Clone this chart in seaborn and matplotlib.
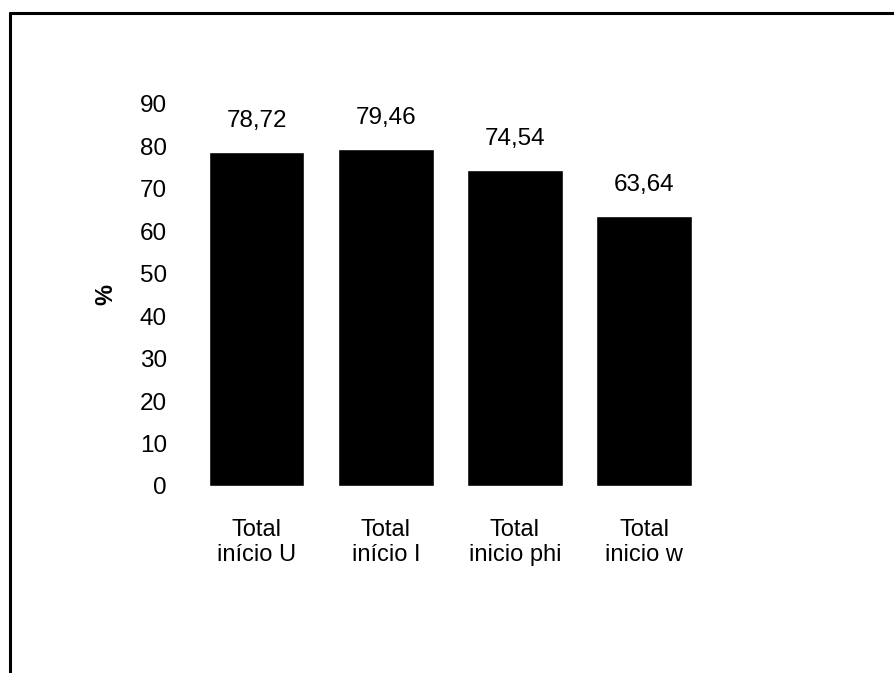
import matplotlib
matplotlib.use("Agg")
import matplotlib.pyplot as plt
from matplotlib.lines import Line2D
import seaborn as sns
import pandas as pd

# Percentages per starting condition
categories = ["Total\ninício U", "Total\ninício I", "Total\ninicio phi", "Total\ninicio w"]
values = [78.72, 79.46, 74.54, 63.64]
value_labels = ["78,72", "79,46", "74,54", "63,64"]
y_ticks = [0, 10, 20, 30, 40, 50, 60, 70, 80, 90]

sns.set_theme(style="white")
plt.rcParams["font.family"] = ["Liberation Sans", "DejaVu Sans"]
plt.rcParams["text.color"] = "black"
plt.rcParams["xtick.color"] = "black"
plt.rcParams["ytick.color"] = "black"
plt.rcParams["axes.labelcolor"] = "black"

df = pd.DataFrame({"categoria": categories, "valor": values})

fig = plt.figure(figsize=(8.94, 6.73), dpi=100)
ax = fig.add_axes([0.2148, 0.2779, 0.578, 0.5676])

sns.barplot(data=df, x="categoria", y="valor", color="black",
            width=0.74, saturation=1, ax=ax)

ax.set_xlim(-0.5, 3.5)
ax.set_ylim(0, 90)
ax.set_yticks(y_ticks)
ax.set_yticklabels([str(t) for t in y_ticks], fontsize=17.5)
ax.tick_params(axis="y", length=0, pad=18)
ax.tick_params(axis="x", length=0, pad=24, labelsize=17)
for lbl in ax.get_xticklabels():
    lbl.set_linespacing(1.15)
ax.set_xlabel("")
ax.set_ylabel("%", fontsize=17, fontweight="bold", labelpad=16)

for side in ["top", "right", "bottom", "left"]:
    ax.spines[side].set_visible(False)

ax.bar_label(ax.containers[0], labels=value_labels, padding=14, fontsize=17.5,
             color="black")

# Partial outer frame (top and left edges)
fig.add_artist(Line2D([0.011, 1.0], [0.981, 0.981], transform=fig.transFigure,
                      color="black", linewidth=2.2))
fig.add_artist(Line2D([0.011, 0.011], [0.0, 0.981], transform=fig.transFigure,
                      color="black", linewidth=2.2))

fig.savefig("out.png", dpi=100, facecolor="white")
